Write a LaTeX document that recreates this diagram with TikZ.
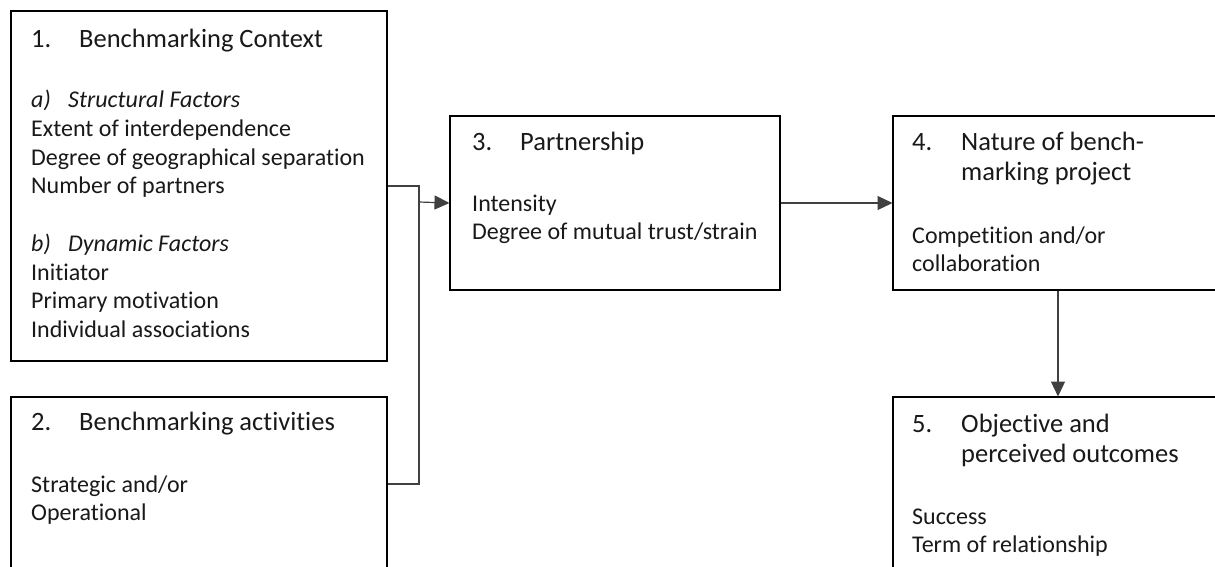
\documentclass[tikz,border=0pt]{standalone}
\usepackage{fontspec}
\setmainfont{Carlito}[Ligatures=NoCommon]
\usetikzlibrary{arrows.meta}
\begin{document}
\begin{tikzpicture}[x=1pt,y=-1pt,
  box/.style={draw=black, line width=2pt, anchor=north west, inner sep=0pt},
  conn/.style={draw=black!75, line width=1.2pt},
  arr/.style={conn, -{Triangle[length=15pt,width=14pt]}, shorten >=-0.5pt},
  ttl/.style={anchor=base west, inner sep=0pt, font=\fontsize{26.5}{32}\selectfont, text=black!90},
  txt/.style={anchor=base west, inner sep=0pt, font=\fontsize{24}{29}\selectfont, text=black!90}]
\useasboundingbox (0,0) rectangle (1215,566);
\clip (0,0) rectangle (1215,566);
\fill[white] (0,0) rectangle (1215,566);
% boxes
\node[box, minimum width=376pt, minimum height=350pt] (b1) at (10,10) {};
\node[box, minimum width=376pt, minimum height=174pt] (b2) at (10,396) {};
\node[box, minimum width=330pt, minimum height=174pt] (b3) at (449,115) {};
\node[box, minimum width=330pt, minimum height=174pt] (b4) at (892,115) {};
\node[box, minimum width=330pt, minimum height=200pt] (b5) at (892,396) {};
% box 1 text
\node[ttl] (t1n) at (31,47) {1.};
\node[ttl] (t1) at (79,47) {Benchmarking Context};
\node[txt] (t1a) at (31,107) {\itshape a)};
\node[txt] (t1at) at (68,107) {\itshape Structural Factors};
\node[txt] (t1b) at (31,136) {Extent of interdependence};
\node[txt] (t1c) at (31,165) {Degree of geographical separation};
\node[txt] (t1d) at (31,193) {Number of partners};
\node[txt] (t1e) at (31,251) {\itshape b)};
\node[txt] (t1et) at (68,251) {\itshape Dynamic Factors};
\node[txt] (t1f) at (31,280) {Initiator};
\node[txt] (t1g) at (31,308) {Primary motivation};
\node[txt] (t1h) at (31,337) {Individual associations};
% box 2 text
\node[ttl] (t2n) at (31,430) {2.};
\node[ttl] (t2) at (79,430) {Benchmarking activities};
\node[txt] (t2a) at (31,492) {Strategic and/or};
\node[txt] (t2b) at (31,520) {Operational};
% box 3 text
\node[ttl] (t3n) at (472,150) {3.};
\node[ttl] (t3) at (520,150) {Partnership};
\node[txt] (t3a) at (472,211) {Intensity};
\node[txt] (t3b) at (472,239) {Degree of mutual trust/strain};
% box 4 text
\node[ttl] (t4n) at (912,150) {4.};
\node[ttl] (t4) at (961,150) {Nature of bench-};
\node[ttl] (t4b) at (961,180) {marking project};
\node[txt] (t4c) at (912,243) {Competition and/or};
\node[txt] (t4d) at (912,271) {collaboration};
% box 5 text
\node[ttl] (t5n) at (912,432) {5.};
\node[ttl] (t5) at (961,432) {Objective and};
\node[ttl] (t5b) at (961,462) {perceived outcomes};
\node[txt] (t5c) at (912,524) {Success};
\node[txt] (t5d) at (912,552) {Term of relationship};
% connectors
\coordinate (j) at (419,202);
\draw[conn] (b1.east) -| (j) |- (b2.east);
\draw[arr] (j) -- (b3.west);
\draw[arr] (b3.east) -- (b4.west);
\draw[arr] (b4.south) -- (b5.north);
\end{tikzpicture}
\end{document}
